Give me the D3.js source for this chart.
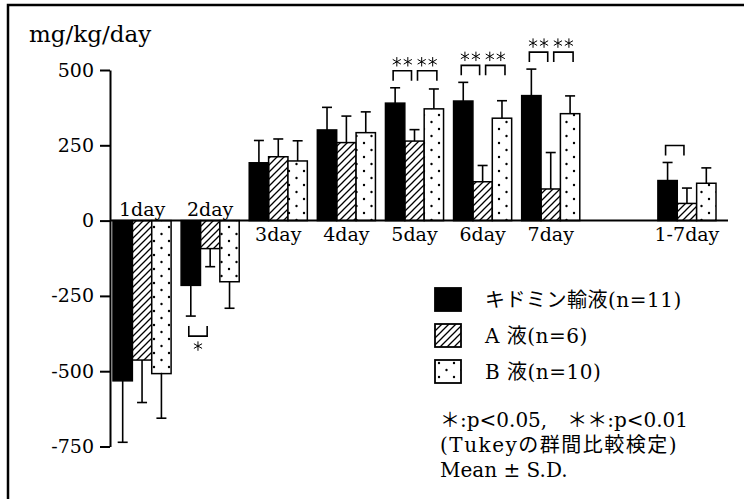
<!DOCTYPE html>
<html lang="ja">
  <head>
    <meta charset="UTF-8" />
    <title>mg/kg/day</title>
    <script src="https://d3js.org/d3.v7.min.js"></script>
    <style>
      body {
        margin: 0;
        background-color: #fff;
      }
      svg {
        display: block;
        font-family: "DejaVu Serif", "Liberation Serif", "Noto Sans CJK JP", serif;
      }
    </style>
  </head>
  <body>
    <div id="chart"></div>

    <script>
      // values
      const categories = ["1day", "2day", "3day", "4day", "5day", "6day", "7day", "1-7day"];
      const seriesNames = ["キドミン輸液(n=11)", "A 液(n=6)", "B 液(n=10)"];
      const kidminMean = [-532, -215, 192, 301, 390, 397, 415, 133];
      const kidminSD = [204, 102, 74, 75, 51, 62, 88, 60];
      const aMean = [-463, -93, 212, 259, 264, 129, 105, 57];
      const aSD = [141, 60, 59, 88, 38, 54, 121, 51];
      const bMean = [-508, -203, 198, 292, 371, 340, 355, 124];
      const bSD = [148, 88, 67, 69, 66, 58, 59, 51];
      const yTicks = [500, 250, 0, -250, -500, -750];
      // significant pairs: category, left series, right series, number of stars
      const sigPairs = [
        ["2day", 0, 1, 1],
        ["5day", 0, 1, 2],
        ["5day", 1, 2, 2],
        ["6day", 0, 1, 2],
        ["6day", 1, 2, 2],
        ["7day", 0, 1, 2],
        ["7day", 1, 2, 2],
        ["1-7day", 0, 1, 0],
      ];
      const notes = ["＊:p<0.05,　＊＊:p<0.01", "(Tukeyの群間比較検定)", "Mean ± S.D."];

      const means = [kidminMean, aMean, bMean];
      const sds = [kidminSD, aSD, bSD];
      const fills = ["#000", "url(#hatch)", "url(#dots)"];

      const width = 744;
      const height = 499;

      const svg = d3
        .select("#chart")
        .append("svg")
        .attr("width", width)
        .attr("height", height);

      // patterns for the A / B bars
      const defs = svg.append("defs");
      defs
        .append("pattern")
        .attr("id", "hatch")
        .attr("patternUnits", "userSpaceOnUse")
        .attr("width", 7)
        .attr("height", 7)
        .append("path")
        .attr("d", "M-1,1 l2,-2 M0,7 l7,-7 M6,8 l2,-2")
        .attr("stroke", "#000")
        .attr("stroke-width", 1.3);
      const dots = defs
        .append("pattern")
        .attr("id", "dots")
        .attr("patternUnits", "userSpaceOnUse")
        .attr("width", 15)
        .attr("height", 14);
      dots.append("rect").attr("width", 15).attr("height", 14).attr("fill", "#fff");
      dots.append("circle").attr("cx", 4).attr("cy", 3).attr("r", 1.2).attr("fill", "#000");
      dots.append("circle").attr("cx", 11.5).attr("cy", 10).attr("r", 1.2).attr("fill", "#000");

      // outer frame (runs off the right and bottom)
      svg
        .append("path")
        .attr("d", "M8,510 V5 H760")
        .attr("fill", "none")
        .attr("stroke", "#000")
        .attr("stroke-width", 2.5);

      // one empty slot between 7day and 1-7day
      const slots = categories.slice(0, 7).concat(["gap"], categories.slice(7));
      const x = d3
        .scaleBand()
        .domain(slots)
        .range([113, 716])
        .paddingInner(0.147)
        .paddingOuter(0);
      const xs = d3.scaleBand().domain([0, 1, 2]).range([0, x.bandwidth()]);
      const y = d3.scaleLinear().domain([-750, 500]).range([446.5, 70]);

      const barCenter = (cat, s) => x(cat) + xs(s) + xs.bandwidth() / 2;

      // y axis
      const yAxis = svg
        .append("g")
        .attr("transform", "translate(110,0)")
        .call(
          d3
            .axisLeft(y)
            .tickValues(yTicks)
            .tickSize(10)
            .tickSizeOuter(0)
            .tickPadding(6)
            .tickFormat((d) => String(d))
        );
      yAxis.attr("font-family", null);
      yAxis.select(".domain").attr("stroke-width", 2);
      yAxis.selectAll(".tick line").attr("stroke-width", 2);
      yAxis
        .selectAll(".tick text")
        .style("font-size", "19px")
        .attr("fill", "#000");

      svg
        .append("text")
        .attr("x", 29)
        .attr("y", 42)
        .style("font-size", "23px")
        .text("mg/kg/day");

      // bars
      const barData = [];
      categories.forEach((cat, i) => {
        means.forEach((m, s) => {
          barData.push({ cat: cat, s: s, mean: m[i], sd: sds[s][i] });
        });
      });

      svg
        .append("g")
        .selectAll("rect")
        .data(barData)
        .join("rect")
        .attr("x", (d) => x(d.cat) + xs(d.s))
        .attr("width", xs.bandwidth())
        .attr("y", (d) => Math.min(y(d.mean), y(0)))
        .attr("height", (d) => Math.abs(y(d.mean) - y(0)))
        .attr("fill", (d) => fills[d.s])
        .attr("stroke", "#000")
        .attr("stroke-width", 1.5);

      // error bars, only away from zero
      const errEnd = (d) => (d.mean >= 0 ? d.mean + d.sd : d.mean - d.sd);
      const err = svg.append("g").attr("stroke", "#000").attr("stroke-width", 1.6);
      err
        .selectAll("line.stem")
        .data(barData)
        .join("line")
        .attr("class", "stem")
        .attr("x1", (d) => barCenter(d.cat, d.s))
        .attr("x2", (d) => barCenter(d.cat, d.s))
        .attr("y1", (d) => y(d.mean))
        .attr("y2", (d) => y(errEnd(d)));
      err
        .selectAll("line.cap")
        .data(barData)
        .join("line")
        .attr("class", "cap")
        .attr("x1", (d) => barCenter(d.cat, d.s) - 5)
        .attr("x2", (d) => barCenter(d.cat, d.s) + 5)
        .attr("y1", (d) => y(errEnd(d)))
        .attr("y2", (d) => y(errEnd(d)));

      // x axis at zero
      svg
        .append("line")
        .attr("x1", 110)
        .attr("x2", 728)
        .attr("y1", y(0))
        .attr("y2", y(0))
        .attr("stroke", "#000")
        .attr("stroke-width", 2);

      // category labels: above the axis for negative groups
      svg
        .append("g")
        .selectAll("text")
        .data(categories)
        .join("text")
        .attr("x", (d) => x(d) + x.bandwidth() / 2)
        .attr("y", (d, i) => (kidminMean[i] < 0 ? y(0) - 5 : y(0) + 20))
        .attr("text-anchor", "middle")
        .style("font-size", "19px")
        .text((d) => d);

      // significance brackets
      const star = d3.symbol(d3.symbolAsterisk, 62);
      const sigG = svg.append("g").attr("stroke", "#000").attr("fill", "none");
      sigPairs.forEach(([cat, a, b, stars]) => {
        const i = categories.indexOf(cat);
        const ends = [a, b].map((s) => {
          const m = means[s][i];
          return y(m >= 0 ? m + sds[s][i] : m - sds[s][i]);
        });
        const up = means[a][i] >= 0;
        // all three bars set the level above positive groups
        const allEnds = [0, 1, 2].map((s) => y(means[s][i] + sds[s][i]));
        const x1 = barCenter(cat, a) + (a === 0 ? -2 : 3);
        const x2 = barCenter(cat, b) + (a === 0 ? -3 : 3);
        let foot, head;
        if (up) {
          foot = d3.min(allEnds) - 7;
          head = foot - 10;
        } else {
          foot = d3.max(ends) + 10;
          head = foot + 10;
        }
        sigG
          .append("path")
          .attr("d", `M${x1},${foot} V${head} H${x2} V${foot}`)
          .attr("stroke-width", 1.6);
        const cx = (x1 + x2) / 2;
        const cy = up ? head - 9 : head + 10;
        d3.range(stars).forEach((k) => {
          sigG
            .append("path")
            .attr("d", star())
            .attr("transform", `translate(${cx + (k - (stars - 1) / 2) * 11},${cy})`)
            .attr("stroke-width", 1);
        });
      });

      // legend
      const legend = svg
        .append("g")
        .selectAll("g")
        .data(seriesNames)
        .join("g")
        .attr("transform", (d, i) => `translate(435,${288 + i * 36})`);
      legend
        .append("rect")
        .attr("width", 26)
        .attr("height", 23)
        .attr("fill", (d, i) => fills[i])
        .attr("stroke", "#000")
        .attr("stroke-width", 1.8);
      legend
        .append("text")
        .attr("x", 50)
        .attr("y", 12)
        .attr("dominant-baseline", "central")
        .style("font-size", "20px")
        .style("letter-spacing", "0.5px")
        .text((d) => d);

      svg
        .append("g")
        .selectAll("text")
        .data(notes)
        .join("text")
        .attr("x", 440)
        .attr("y", (d, i) => 427 + i * 25)
        .style("font-size", "20px")
        .style("letter-spacing", (d, i) => (i === 1 ? "1.5px" : "0px"))
        .text((d) => d);
    </script>
  </body>
</html>
